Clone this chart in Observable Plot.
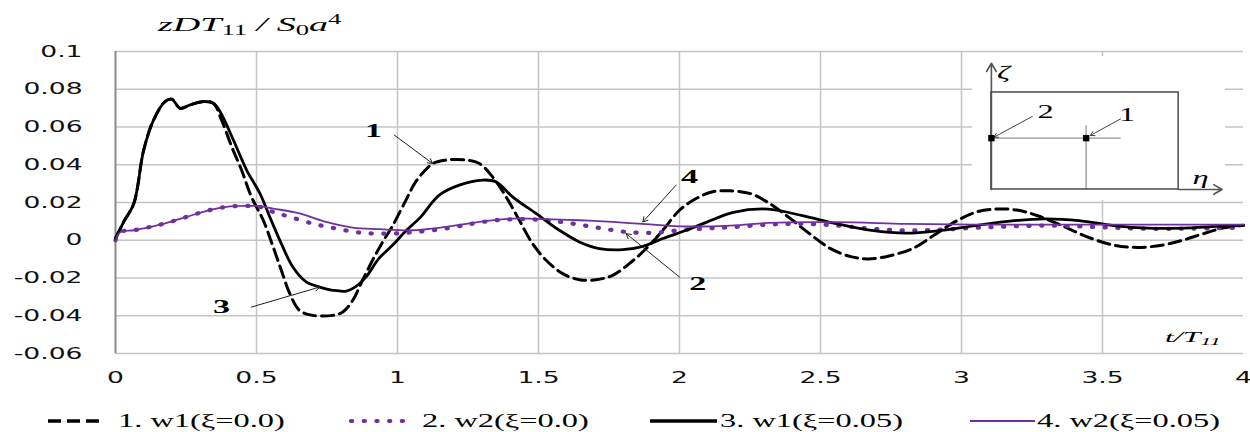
<!DOCTYPE html>
<html><head><meta charset="utf-8">
<script src="https://cdn.jsdelivr.net/npm/d3@7"></script>
<script src="https://cdn.jsdelivr.net/npm/@observablehq/plot@0.6"></script>
<style>
body{margin:0;background:#fff;}
#wrap{position:relative;width:1250px;height:432px;overflow:hidden;background:#fff;}
#chart svg{display:block;}
#legend{position:relative;width:1250px;height:37px;}
.serif{font-family:"Liberation Serif","Times New Roman",serif;color:#000;}
.st{position:absolute;white-space:nowrap;transform-origin:left center;line-height:1;}
.st sub{font-size:0.7em;vertical-align:baseline;position:relative;top:0.3em;font-style:normal;}
.st sup{font-size:0.7em;vertical-align:baseline;position:relative;top:-0.5em;font-style:normal;}
</style></head><body>
<div id="wrap">
  <div id="chart"></div>
  <div id="legend"></div>
  <div id="ytitle" class="serif st" style="left:158px;top:15px;font-size:19.5px;font-style:italic;transform:scaleX(1.95)">zDT<sub>11</sub> / S<sub>0</sub>a<sup>4</sup></div>
  <div id="xtitle" class="serif st" style="left:1165px;top:329px;font-size:15.5px;font-style:italic;transform:scaleX(2.05)">t/T<sub style="font-style:italic">11</sub></div>
</div>
<script>
// ---- data ----
const seriesNames = ["1. w1(ξ=0.0)", "2. w2(ξ=0.0)", "3. w1(ξ=0.05)", "4. w2(ξ=0.05)"];

const t1 = [0, 0.03, 0.065, 0.1, 0.135, 0.176, 0.2, 0.229, 0.265, 0.312, 0.347, 0.376, 0.412, 0.447, 0.482, 0.524, 0.559, 0.588, 0.618, 0.653, 0.7, 0.771, 0.806, 0.841, 0.876, 0.912, 0.947, 0.982, 1.029, 1.065, 1.124, 1.172, 1.243, 1.29, 1.337, 1.385, 1.432, 1.479, 1.527, 1.586, 1.645, 1.704, 1.763, 1.822, 1.882, 1.941, 2.0, 2.059, 2.118, 2.178, 2.252, 2.314, 2.387, 2.461, 2.534, 2.608, 2.669, 2.743, 2.828, 2.902, 2.975, 3.049, 3.123, 3.196, 3.27, 3.355, 3.441, 3.539, 3.625, 3.711, 3.784, 3.858, 3.931, 4.0];
const w1_xi0 = [0.001, 0.010, 0.0195, 0.0478, 0.0637, 0.0735, 0.0747, 0.0699, 0.0717, 0.0735, 0.0726, 0.0637, 0.0496, 0.0372, 0.023, 0.0106, -0.0035, -0.0159, -0.0283, -0.0372, -0.0398, -0.0398, -0.038, -0.0319, -0.0212, -0.0105, -0.001, 0.0075, 0.021, 0.031, 0.0405, 0.0425, 0.0425, 0.0407, 0.0336, 0.023, 0.0106, -0.0018, -0.0106, -0.0177, -0.0209, -0.0209, -0.0186, -0.0124, -0.0044, 0.0053, 0.0159, 0.0221, 0.0257, 0.0262, 0.0247, 0.02, 0.0122, 0.0035, -0.0043, -0.0087, -0.0099, -0.0083, -0.0043, 0.0026, 0.0096, 0.0148, 0.0165, 0.016, 0.013, 0.0078, 0.0021, -0.0026, -0.0038, -0.0026, 0.0, 0.0035, 0.0066, 0.008];

const t2 = [0, 0.018, 0.065, 0.124, 0.182, 0.253, 0.324, 0.394, 0.465, 0.51, 0.559, 0.618, 0.7, 0.782, 0.876, 0.971, 1.065, 1.172, 1.266, 1.349, 1.432, 1.527, 1.621, 1.716, 1.811, 1.905, 2.0, 2.095, 2.191, 2.314, 2.436, 2.559, 2.681, 2.804, 2.926, 3.049, 3.172, 3.294, 3.417, 3.539, 3.662, 3.784, 3.907, 4.0];
const w2_xi0 = [0, 0.0044, 0.0053, 0.0071, 0.0092, 0.0124, 0.0156, 0.0177, 0.0182, 0.0178, 0.015, 0.0124, 0.0088, 0.0062, 0.0039, 0.0035, 0.0044, 0.0062, 0.0088, 0.0106, 0.0112, 0.0106, 0.0088, 0.0065, 0.0044, 0.0039, 0.0053, 0.0062, 0.007, 0.0083, 0.0087, 0.0078, 0.0061, 0.0052, 0.0056, 0.0066, 0.0073, 0.0078, 0.0073, 0.0066, 0.0061, 0.0061, 0.0064, 0.0066];

const t3 = [0, 0.03, 0.065, 0.1, 0.135, 0.176, 0.2, 0.229, 0.265, 0.312, 0.347, 0.371, 0.418, 0.465, 0.512, 0.547, 0.588, 0.629, 0.676, 0.724, 0.771, 0.818, 0.853, 0.888, 0.935, 0.982, 1.03, 1.08, 1.148, 1.219, 1.302, 1.349, 1.408, 1.491, 1.574, 1.645, 1.716, 1.799, 1.87, 1.941, 2.024, 2.095, 2.191, 2.314, 2.436, 2.559, 2.681, 2.804, 2.926, 3.049, 3.172, 3.294, 3.417, 3.539, 3.662, 3.784, 3.907, 4.0];
const w1_xi005 = [0.001, 0.010, 0.0195, 0.0478, 0.0637, 0.0735, 0.0747, 0.0699, 0.0717, 0.0735, 0.0726, 0.0681, 0.0531, 0.0372, 0.0248, 0.0124, -0.0018, -0.0142, -0.0221, -0.0248, -0.0265, -0.0269, -0.0244, -0.0195, -0.0095, -0.0027, 0.005, 0.012, 0.0239, 0.0292, 0.0319, 0.031, 0.023, 0.0142, 0.0053, -0.0009, -0.0044, -0.005, -0.0032, 0.0009, 0.0053, 0.0095, 0.0148, 0.0165, 0.013, 0.0087, 0.0052, 0.0038, 0.0052, 0.0078, 0.0101, 0.0113, 0.0104, 0.0078, 0.0064, 0.0064, 0.0073, 0.0078];

const t4 = [0, 0.018, 0.065, 0.124, 0.182, 0.253, 0.324, 0.394, 0.465, 0.51, 0.559, 0.653, 0.747, 0.841, 0.935, 1.053, 1.172, 1.29, 1.408, 1.527, 1.645, 1.763, 1.882, 2.0, 2.118, 2.213, 2.314, 2.559, 2.804, 3.049, 3.294, 3.539, 3.784, 4.0];
const w2_xi005 = [0, 0.0044, 0.0053, 0.0071, 0.0092, 0.0124, 0.0156, 0.0177, 0.0182, 0.0181, 0.0168, 0.0142, 0.0097, 0.0067, 0.0059, 0.0053, 0.0071, 0.0097, 0.0115, 0.0112, 0.0106, 0.0097, 0.0085, 0.0074, 0.0074, 0.008, 0.0092, 0.0096, 0.0087, 0.0083, 0.0083, 0.0083, 0.0083, 0.0083];

const xTicks = [0, 0.5, 1, 1.5, 2, 2.5, 3, 3.5, 4];
const xGridTicks = [0.5, 1, 1.5, 2, 2.5, 3, 3.5];
const yTicks = [-0.06, -0.04, -0.02, 0, 0.02, 0.04, 0.06, 0.08, 0.1];

// curve annotation labels and arrows (data units)
const curveLabels = ["1", "3", "4", "2"];
const curveLabelX = [0.915, 0.376, 2.036, 2.065];
const curveLabelY = [0.0581, -0.0354, 0.0336, -0.023];
const curveArrowFrom = [[0.988, 0.0558], [0.482, -0.0354], [1.988, 0.0292], [2.0, -0.0195]];
const curveArrowTo = [[1.124, 0.0407], [0.724, -0.0248], [1.87, 0.0097], [1.811, 0.0035]];

// inset schematic (data units)
const insetBg = [{x1: 3.039, x2: 3.936, y1: 0.021, y2: 0.0973}];
const insetBox = [{x1: 3.106, x2: 3.770, y1: 0.0269, y2: 0.0783}];
const insetAxes = [{x1: 3.106, y1: 0.0269, x2: 3.106, y2: 0.0938}, {x1: 3.770, y1: 0.0269, x2: 3.924, y2: 0.0269}];
const insetLines = [{x1: 3.106, y1: 0.0541, x2: 3.564, y2: 0.0541}, {x1: 3.442, y1: 0.0608, x2: 3.442, y2: 0.0269}];
const insetPoints = [{x: 3.106, y: 0.0541}, {x: 3.442, y: 0.0541}];
const insetSymbols = [{x: 3.149, y: 0.0883, s: "ζ"}, {x: 3.848, y: 0.0327, s: "η"}];
const insetNums = [{x: 3.298, y: 0.0678, s: "2"}, {x: 3.587, y: 0.0661, s: "1"}];
const insetArrows = [{x1: 3.251, y1: 0.0656, x2: 3.115, y2: 0.0546}, {x1: 3.564, y1: 0.0643, x2: 3.457, y2: 0.0555}];

// ---- build ----
const seriesT = [t1, t2, t3, t4];
const seriesV = [w1_xi0, w2_xi0, w1_xi005, w2_xi005];
const styles = [
  {stroke: "#000000", strokeWidth: 3, strokeDasharray: "12,6"},
  {stroke: "#7030a0", strokeWidth: 4.2, strokeDasharray: "1.2,11.5", strokeLinecap: "round"},
  {stroke: "#000000", strokeWidth: 2.8},
  {stroke: "#7030a0", strokeWidth: 1.8}
];
const series = seriesT.map((ts, k) => ts.map((t, i) => ({t, v: seriesV[k][i], s: seriesNames[k]})));

const labelData = curveLabels.map((s, i) => ({s, x: curveLabelX[i], y: curveLabelY[i]}));
const arrowData = curveArrowFrom.map((f, i) => ({x1: f[0], y1: f[1], x2: curveArrowTo[i][0], y2: curveArrowTo[i][1]}));

const serif = "Liberation Serif, Times New Roman, serif";
const fmtY = d => d === 0 ? "0" : String(+d.toFixed(2));

const svg = Plot.plot({
  width: 1250, height: 395,
  marginLeft: 115, marginRight: 7, marginTop: 51, marginBottom: 42,
  x: {domain: [0, 4]},
  y: {domain: [-0.06, 0.1]},
  style: {fontFamily: "DejaVu Sans, sans-serif", fontSize: "16px", color: "#111", background: "#fff", overflow: "visible"},
  marks: [
    Plot.gridY(yTicks, {stroke: "#c4c4c4", strokeOpacity: 1, strokeWidth: 1.5}),
    Plot.gridX(xGridTicks, {stroke: "#c4c4c4", strokeOpacity: 1, strokeWidth: 1.5}),
    Plot.ruleX([0], {stroke: "#8a8a8a", strokeWidth: 2}),
    Plot.axisY(yTicks, {tickSize: 0, tickPadding: 33, tickFormat: fmtY, label: null}),
    Plot.axisX(xTicks, {tickSize: 0, tickPadding: 18, tickFormat: d => String(d), label: null}),
    // inset
    Plot.rect(insetBg, {x1: "x1", x2: "x2", y1: "y1", y2: "y2", fill: "#fff"}),
    Plot.link(insetLines, {x1: "x1", y1: "y1", x2: "x2", y2: "y2", stroke: "#b0b0b0", strokeWidth: 1.8}),
    Plot.rect(insetBox, {x1: "x1", x2: "x2", y1: "y1", y2: "y2", fill: "none", stroke: "#555", strokeWidth: 1.6}),
    Plot.arrow(insetAxes, {x1: "x1", y1: "y1", x2: "x2", y2: "y2", stroke: "#555", strokeWidth: 1.6, headLength: 9}),
    Plot.arrow(insetArrows, {x1: "x1", y1: "y1", x2: "x2", y2: "y2", stroke: "#444", strokeWidth: 1, headLength: 7}),
    Plot.dot(insetPoints, {x: "x", y: "y", symbol: "square", r: 3.6, fill: "#000"}),
    Plot.text(insetSymbols, {x: "x", y: "y", text: "s", fontFamily: serif, fontStyle: "italic", fontSize: 18, fill: "#000"}),
    Plot.text(insetNums, {x: "x", y: "y", text: "s", fontFamily: serif, fontSize: 18, fill: "#000"}),
    // curves
    ...series.map((d, k) => Plot.line(d, {x: "t", y: "v", curve: "catmull-rom", ...styles[k]})),
    // annotations
    Plot.arrow(arrowData, {x1: "x1", y1: "y1", x2: "x2", y2: "y2", stroke: "#222", strokeWidth: 1, headLength: 8}),
    Plot.text(labelData, {x: "x", y: "y", text: "s", fontFamily: serif, fontWeight: "bold", fontSize: 19, fill: "#000"})
  ]
});
document.getElementById("chart").append(svg);

function stretch(el, k) {
  const w = el.getComputedTextLength();
  if (w > 0) {
    el.setAttribute("textLength", (w * k).toFixed(2));
    el.setAttribute("lengthAdjust", "spacingAndGlyphs");
  }
}
d3.select(svg).selectAll('g[aria-label="y-axis tick label"] text, g[aria-label="x-axis tick label"] text').each(function() { stretch(this, 1.66); });
d3.select(svg).selectAll('g[aria-label="text"] text').each(function() { stretch(this, 1.8); });

// legend
const legendLayout = [{sw: 48, sww: 52, tx: 118}, {sw: 348, sww: 62, tx: 422}, {sw: 650, sww: 67, tx: 720}, {sw: 970, sww: 65, tx: 1037}];
const legendStyles = [
  {stroke: "#000", w: 3.5, dash: "13,6", cap: "butt"},
  {stroke: "#7030a0", w: 4.2, dash: "1.2,11.5", cap: "round"},
  {stroke: "#000", w: 3.5, dash: null, cap: "butt"},
  {stroke: "#7030a0", w: 2.2, dash: null, cap: "butt"}
];
const legend = d3.select("#legend");
seriesNames.forEach((name, i) => {
  const L = legendLayout[i], S = legendStyles[i];
  const sw = legend.append("svg").style("position", "absolute").style("left", L.sw + "px").style("top", "16px")
    .attr("width", L.sww).attr("height", 20);
  sw.append("line").attr("x1", S.cap === "round" ? 3 : 0).attr("x2", L.sww).attr("y1", 10).attr("y2", 10)
    .attr("stroke", S.stroke).attr("stroke-width", S.w).attr("stroke-dasharray", S.dash).attr("stroke-linecap", S.cap);
  legend.append("div").attr("class", "serif st").style("left", L.tx + "px").style("top", "17px")
    .style("font-size", "18px").style("transform", "scaleX(1.8)").text(name);
});
</script>
</body></html>
